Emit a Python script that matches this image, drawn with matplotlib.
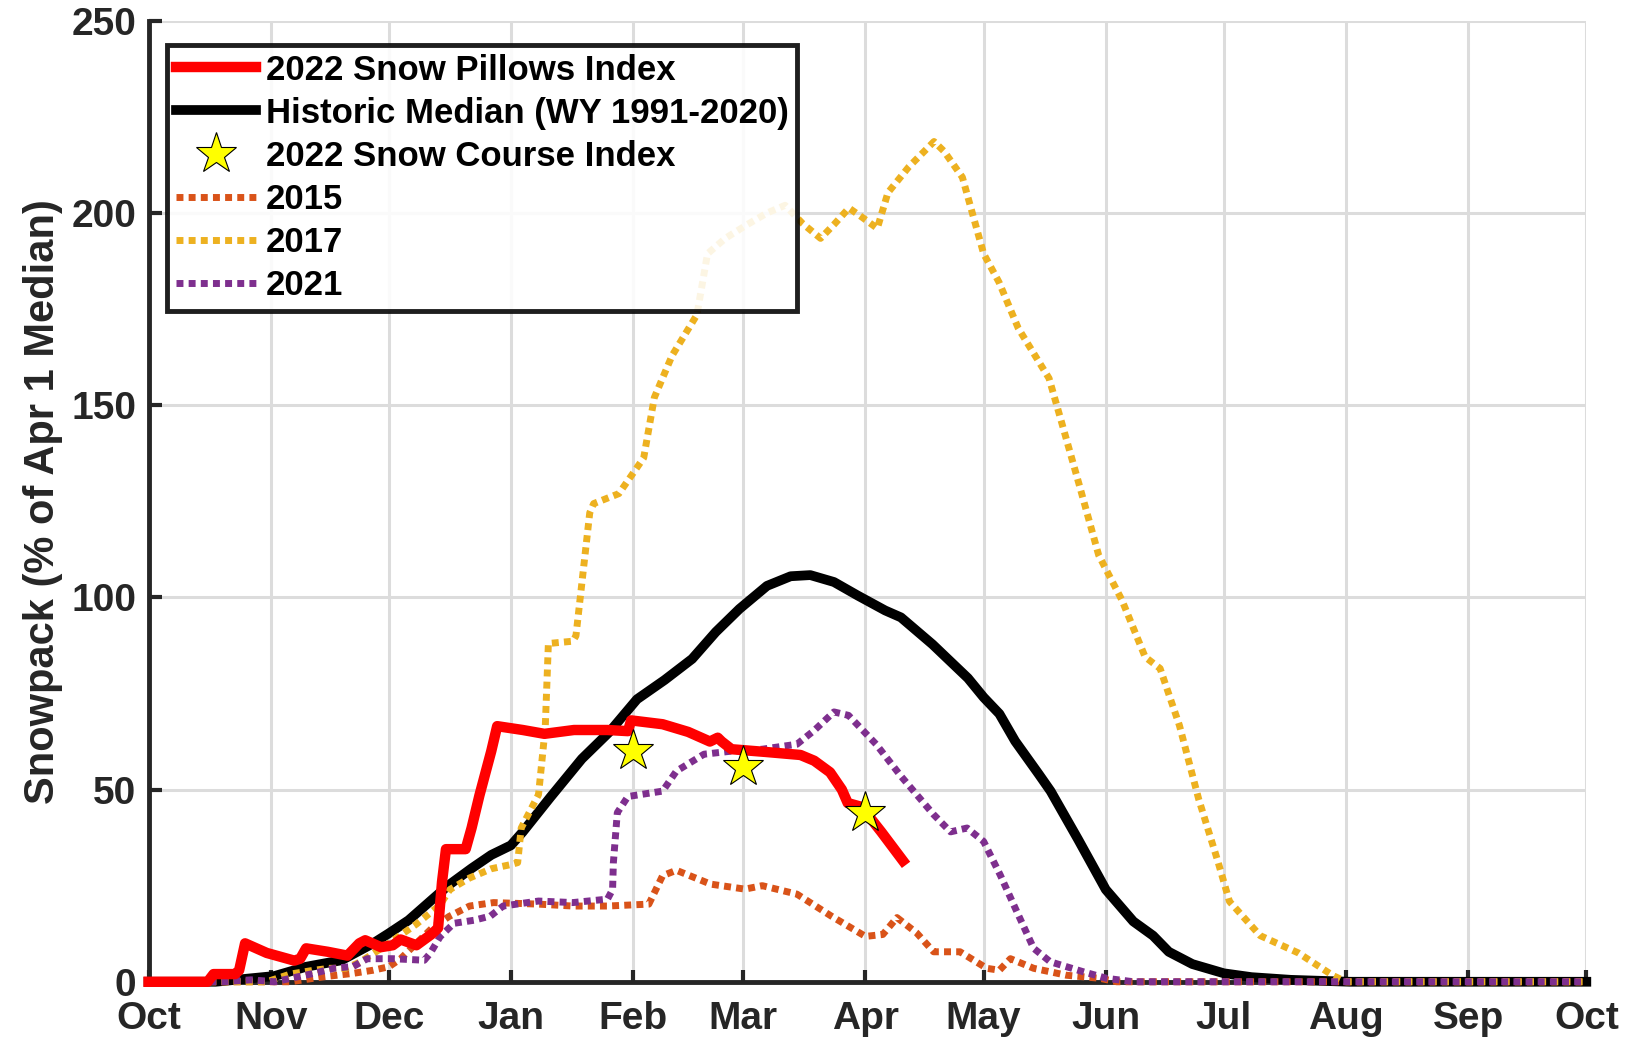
import matplotlib
matplotlib.use("Agg")
import matplotlib.pyplot as plt
from matplotlib.lines import Line2D

plt.rcParams['font.family'] = ['Liberation Sans', 'DejaVu Sans']
plt.rcParams['font.weight'] = 'bold'

# x = days since Oct 1 (water year), y = % of Apr 1 median
month_labels = ['Oct', 'Nov', 'Dec', 'Jan', 'Feb', 'Mar', 'Apr',
                'May', 'Jun', 'Jul', 'Aug', 'Sep', 'Oct']
month_days = [0, 31, 61, 92, 123, 151, 182, 212, 243, 273, 304, 335, 365]

pillows_day = [0, 15, 16.5, 22, 23, 24.5, 30, 37, 38.5, 40, 45.5, 50.5, 53.5, 55,
               59, 62, 64, 68, 72, 73.5, 74.5, 75.5, 80.5, 82, 84, 87, 88.5, 95,
               100.5, 108, 116.5, 121.7, 122.5, 130.5, 137, 142.5, 144.5, 145.5,
               148, 156.5, 165.5, 169, 173, 176, 177.5, 181, 186, 191.5]
pillows_val = [0, 0, 2, 2, 3, 10, 7.5, 5.5, 6, 8.7, 7.8, 6.8, 10, 10.8,
               9, 9.5, 11, 9.5, 12.5, 14, 26, 34.5, 34.5, 40, 48.5, 60, 66.5, 65.5,
               64.5, 65.5, 65.5, 65.2, 68, 67, 65, 62.5, 63.5, 62.5,
               60.5, 59.8, 59, 57.5, 54.5, 50, 46.5, 45.5, 39, 31.5]

median_day = [0, 17, 25, 32, 40, 49, 57, 61, 66, 71, 76, 82, 87, 92, 95, 102, 110,
              117, 124, 131, 138, 144, 150, 157, 163, 168, 174, 180, 187, 191, 199,
              208, 212, 216, 220, 226, 229, 236, 243, 250, 255, 259, 265, 273, 280,
              290, 305, 365]
median_val = [0, 0, 0.8, 1.5, 3.9, 5.6, 10, 12.6, 16, 20.5, 25, 29.5, 33, 35.5, 39,
              48, 58, 65, 73.5, 78.5, 84, 91, 97, 103, 105.5, 105.8, 104, 100.5,
              96.6, 94.8, 87.8, 79, 74, 69.7, 62.6, 54, 49.6, 37, 24, 15.7, 12, 7.8,
              4.6, 2.2, 1.2, 0.5, 0, 0]

course_day = [123, 151, 182]
course_val = [60, 56, 44]

y2015_day = [0, 36, 44.5, 52, 57, 61, 64, 66, 72, 76.3, 81.5, 87.6, 99, 107.7,
             116.5, 127, 130.5, 134, 142.7, 151.4, 155.8, 164.6, 173.3, 182, 186.4,
             190, 195, 199.3, 206, 212.8, 216, 218.8, 224.7, 233, 241.5, 245.8, 365]
y2015_val = [0, 0, 1.3, 2.2, 3, 3.9, 6, 8, 14, 17, 19.7, 20.6, 20.2, 19.7,
             19.7, 20.2, 27.6, 29, 25.4, 24.1, 25, 22.8, 17.1, 11.8, 12.3,
             16.7, 12.7, 7.8, 7.8, 3.5, 3, 6, 3.5, 1.7, 0.9, 0, 0]

y2017_day = [0, 30, 36, 42, 46, 50, 53, 55, 61, 68, 74, 76.5, 81.5, 87, 92, 93.7,
             94.6, 99, 100.7, 101.5, 107.7, 108.5, 112, 113, 119.4, 125.7, 128.4,
             132.9, 139.2, 141.9, 146.4, 152, 157, 161.6, 166, 170.6, 174, 177.8,
             181, 185, 187.7, 193, 199.4, 202, 206.6, 212, 215.9, 220.8, 228.6,
             231.5, 236.4, 241.2, 247.1, 253, 256.8, 261.7, 266.6, 271.5, 274.4,
             282.2, 291.9, 300.7, 304, 365]
y2017_val = [0, 0, 2, 3, 3.5, 3.5, 4.8, 6, 10, 15, 20, 24, 27, 29.4, 30.5, 31,
             40, 48.7, 66, 88, 88.6, 90, 122, 124.4, 127, 136.3, 152,
             162.9, 173.5, 189.4, 193.4, 197, 200, 202, 197.3, 193.4, 197, 201.3,
             199, 196, 205.3, 212, 218.6, 216, 209.3, 189.4, 182, 170, 157,
             146.6, 128.8, 111, 99.3, 84.5, 81.5, 66.7, 47.5, 31.2, 20.9,
             12, 7.5, 1.6, 0, 0]

y2021_day = [0, 19, 26, 32, 42, 47, 52, 55.5, 62, 70, 71.5, 74, 77.5, 82.6, 86.8,
             90, 99, 107.7, 116.5, 117.8, 118, 119, 121.7, 130.5, 134, 141, 148,
             155.8, 164.6, 169, 174, 177.7, 184.7, 191, 199.3, 203.6, 207.8, 212,
             216.2, 220.4, 224.7, 228.9, 237.3, 243.2, 250, 365]
y2021_val = [0, 0, 0.5, 0, 2.2, 3.5, 4, 6, 6, 5.6, 7.4, 11.7, 15.2, 16, 17.1,
             19.7, 21, 20.6, 21.5, 24, 31, 44, 48.2, 49.6, 54.8, 59.2, 60,
             60.5, 61.8, 65.4, 70.2, 69.3, 61.8, 53.5, 43.5, 39, 40, 36.5,
             27.8, 18.3, 8.7, 5.2, 2.6, 0.9, 0, 0]

dark = '#262626'
dot = (0, (1.0, 0.75))
dot_lw = 5

fig = plt.figure(figsize=(16.29, 10.41), dpi=100)
ax = fig.add_axes([0.0912, 0.0569, 0.8826, 0.9231])

ax.plot(median_day, median_val, color='black', lw=7, clip_on=False, zorder=3)
ax.plot(y2015_day, y2015_val, color='#D95319', lw=dot_lw, ls=dot, clip_on=False, zorder=4)
ax.plot(y2017_day, y2017_val, color='#EDB120', lw=dot_lw, ls=dot, clip_on=False, zorder=4)
ax.plot(y2021_day, y2021_val, color='#7E2F8E', lw=dot_lw, ls=dot, clip_on=False, zorder=4)
ax.plot(pillows_day, pillows_val, color='#FF0000', lw=7.5, clip_on=False, zorder=5)
ax.plot(course_day, course_val, ls='none', marker='*', ms=31, mfc='#FFFF00',
        mec='black', mew=0.8, clip_on=False, zorder=6)

ax.set_xlim(0, 365)
ax.set_ylim(0, 250)
ax.set_xticks(month_days)
ax.set_xticklabels(month_labels)
ax.set_yticks([0, 50, 100, 150, 200, 250])

ax.grid(True, color='#dcdcdc', lw=2.2, zorder=0)
ax.set_axisbelow(True)
for s in ['top', 'right']:
    ax.spines[s].set_visible(False)
for s in ['left', 'bottom']:
    ax.spines[s].set_color(dark)
    ax.spines[s].set_linewidth(3.5)
ax.tick_params(direction='in', length=9, width=3, colors=dark, labelsize=28)
ax.tick_params(axis='x', pad=14)
ax.tick_params(axis='y', pad=9)
for lab in ax.get_xticklabels() + ax.get_yticklabels():
    lab.set_fontweight('bold')

ax.set_ylabel('Snowpack (% of Apr 1 Median)', fontsize=30, fontweight='bold',
              color=dark, labelpad=6)

handles = [
    Line2D([], [], color='#FF0000', lw=7.5),
    Line2D([], [], color='black', lw=7),
    Line2D([], [], ls='none', marker='*', ms=31, mfc='#FFFF00', mec='black', mew=0.8),
    Line2D([], [], color='#D95319', lw=dot_lw, ls=dot),
    Line2D([], [], color='#EDB120', lw=dot_lw, ls=dot),
    Line2D([], [], color='#7E2F8E', lw=dot_lw, ls=dot),
]
labels = ['2022 Snow Pillows Index', 'Historic Median (WY 1991-2020)',
          '2022 Snow Course Index', '2015', '2017', '2021']
leg = ax.legend(handles, labels, loc='upper left', bbox_to_anchor=(0.0128, 0.975),
                borderaxespad=0, frameon=True, fancybox=False,
                framealpha=0.88, edgecolor='black', borderpad=0.25,
                labelspacing=0.29, handlelength=2.3, handletextpad=0.3,
                prop={'weight': 'bold', 'size': 25})
leg.get_frame().set_linewidth(3.5)
leg.set_zorder(10)

fig.savefig('out.png', dpi=100)
